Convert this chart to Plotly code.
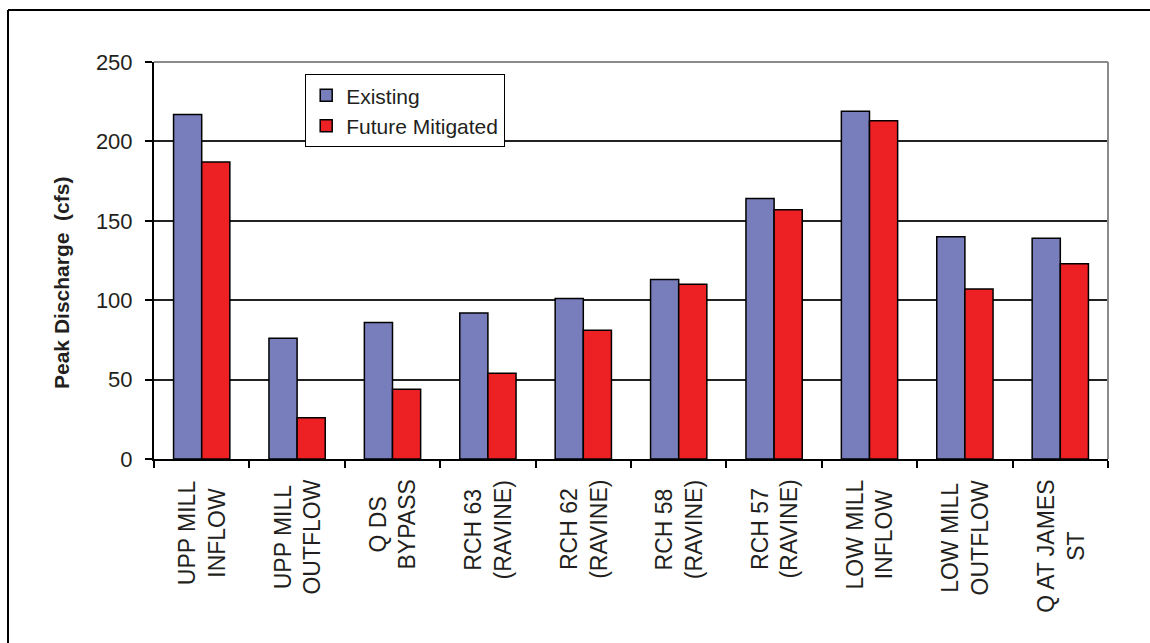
import plotly.graph_objects as go

# Peak discharge at each location (cfs)
locations = [
    "UPP MILL<br>INFLOW",
    "UPP MILL<br>OUTFLOW",
    "Q DS<br>BYPASS",
    "RCH 63<br>(RAVINE)",
    "RCH 62<br>(RAVINE)",
    "RCH 58<br>(RAVINE)",
    "RCH 57<br>(RAVINE)",
    "LOW MILL<br>INFLOW",
    "LOW MILL<br>OUTFLOW",
    "Q AT JAMES<br>ST",
]
existing = [217, 76, 86, 92, 101, 113, 164, 219, 140, 139]
future_mitigated = [187, 26, 44, 54, 81, 110, 157, 213, 107, 123]
y_ticks = [0, 50, 100, 150, 200, 250]

W, H = 1150, 643
M_L, M_R, M_T, M_B = 154, 42, 62, 184
PW, PH = W - M_L - M_R, H - M_T - M_B

FONT = "Liberation Sans, Arial, sans-serif"
TXT = "#231f20"
BLUE = "#787dbb"
RED = "#ed2024"


def px_x(px):
    return (px - M_L) / PW


def px_y(py):
    return (H - M_B - py) / PH


fig = go.Figure()
fig.add_trace(go.Bar(
    x=list(range(len(locations))), y=existing, name="Existing",
    marker=dict(color=BLUE, line=dict(color="black", width=1.5)),
))
fig.add_trace(go.Bar(
    x=list(range(len(locations))), y=future_mitigated, name="Future Mitigated",
    marker=dict(color=RED, line=dict(color="black", width=1.5)),
))

# Category labels: rotated, lines centred, hanging below the axis
for i, name in enumerate(locations):
    fig.add_annotation(
        x=i, xref="x", y=px_y(478), yref="paper",
        text=name, textangle=-90, showarrow=False,
        xanchor="center", yanchor="top", align="center",
        font=dict(family=FONT, size=23, color=TXT),
    )

# Y axis title
fig.add_annotation(
    x=px_x(61), xref="paper", y=px_y(283), yref="paper",
    text="<b>Peak Discharge  (cfs)</b>", textangle=-90, showarrow=False,
    xanchor="center", yanchor="middle",
    font=dict(family=FONT, size=21, color=TXT),
)

shapes = [
    # plot-area border (top and right)
    dict(type="line", xref="paper", yref="paper", x0=0, x1=1, y0=1, y1=1,
         line=dict(color="#8a8a8a", width=2), layer="above"),
    dict(type="line", xref="paper", yref="paper", x0=1, x1=1, y0=0, y1=1,
         line=dict(color="#8a8a8a", width=2), layer="above"),
    # outer chart frame
    dict(type="line", xref="paper", yref="paper", x0=px_x(8), x1=px_x(8),
         y0=px_y(10), y1=px_y(H + 5), line=dict(color="black", width=2)),
    dict(type="line", xref="paper", yref="paper", x0=px_x(8), x1=px_x(W + 5),
         y0=px_y(10), y1=px_y(10), line=dict(color="black", width=2)),
]

fig.update_layout(
    width=W, height=H,
    margin=dict(l=M_L, r=M_R, t=M_T, b=M_B),
    paper_bgcolor="white", plot_bgcolor="white",
    barmode="group", bargap=0.41, bargroupgap=0,
    font=dict(family=FONT, size=22, color=TXT),
    shapes=shapes,
    showlegend=True,
    legend=dict(
        x=px_x(305), y=px_y(74), xanchor="left", yanchor="top",
        bgcolor="white", bordercolor="black", borderwidth=1.2,
        font=dict(family=FONT, size=21, color=TXT),
        itemwidth=30, tracegroupgap=0,
    ),
    xaxis=dict(
        type="linear", range=[-0.5, len(locations) - 0.5],
        tickmode="array", tickvals=[i - 0.5 for i in range(len(locations) + 1)],
        showticklabels=False, ticks="outside", ticklen=7, tickwidth=1.5,
        tickcolor="black", showline=True, linecolor="black", linewidth=2,
        showgrid=False, zeroline=False,
    ),
    yaxis=dict(
        range=[0, 250], tickvals=y_ticks, ticktext=[str(v) for v in y_ticks],
        ticks="outside", ticklen=7, tickwidth=1.5, tickcolor="black",
        ticklabelstandoff=8,
        showline=True, linecolor="black", linewidth=2,
        showgrid=True, gridcolor="#222222", gridwidth=1.5,
        zeroline=False,
        tickfont=dict(family=FONT, size=22, color=TXT),
    ),
)

fig.write_html("out.html")
